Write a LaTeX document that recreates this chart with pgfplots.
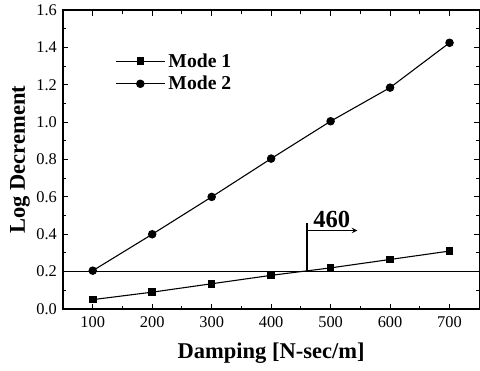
\documentclass[border=0pt]{standalone}
\usepackage{pgfplots}
\pgfplotsset{compat=1.18}
\usepackage{fontspec}
\setmainfont{Liberation Serif}
\begin{document}
\begin{tikzpicture}
\begin{axis}[
  scale only axis, width=305pt, height=219pt,
  xmin=50, xmax=750, ymin=0, ymax=1.6,
  xtick={100,200,...,700}, ytick={0,0.2,...,1.6},
  minor x tick num=1, minor y tick num=1,
  tick align=inside,
  axis line style={line width=1.1pt},
  every tick/.style={black, line width=0.8pt},
  major tick length=4pt, minor tick length=2.5pt,
  yticklabel style={/pgf/number format/fixed,/pgf/number format/precision=1,/pgf/number format/fixed zerofill, xshift=-1pt},
  /pgf/number format/assume math mode=true,
  tick label style={font=\large},
  xticklabel style={yshift=-2pt},
  xlabel={\textbf{Damping [N-sec/m]}},
  ylabel={\textbf{Log Decrement}},
  label style={font=\fontsize{16.5}{18}\selectfont},
  xlabel style={yshift=-4pt},
  ylabel style={yshift=-2pt},
  legend style={at={(0.125,0.865)}, anchor=north west, draw=none, fill=none, font=\bfseries\Large, row sep=1pt, inner sep=0pt},
  legend image code/.code={\draw[#1] (0cm,0cm) -- (0.63cm,0cm); \draw[#1,only marks] plot coordinates {(0.63cm,0cm)}; \draw[#1] (0.63cm,0cm) -- (1.27cm,0cm);},
]
\addplot[black, line width=0.8pt, mark=square*, mark size=2.4pt] coordinates {
(100,0.05) (200,0.09) (300,0.135) (400,0.18) (500,0.22) (600,0.265) (700,0.31)};
\addlegendentry{Mode 1}
\addplot[black, line width=0.8pt, mark=*, mark size=2.7pt] coordinates {
(100,0.205) (200,0.40) (300,0.60) (400,0.805) (500,1.005) (600,1.185) (700,1.425)};
\addlegendentry{Mode 2}
\draw[black, line width=1pt] (axis cs:50,0.2) -- (axis cs:750,0.2);
\draw[black, line width=1.1pt] (axis cs:460,0.2) -- (axis cs:460,0.46);
\draw[black, line width=0.8pt, -stealth] (axis cs:460,0.42) -- (axis cs:545,0.42);
\node[font=\bfseries\fontsize{18}{20}\selectfont, anchor=south, inner sep=1pt] at (axis cs:502,0.425) {460};
\end{axis}
\path ([xshift=-4pt,yshift=-2pt]current axis.outer south west);
\end{tikzpicture}
\end{document}
